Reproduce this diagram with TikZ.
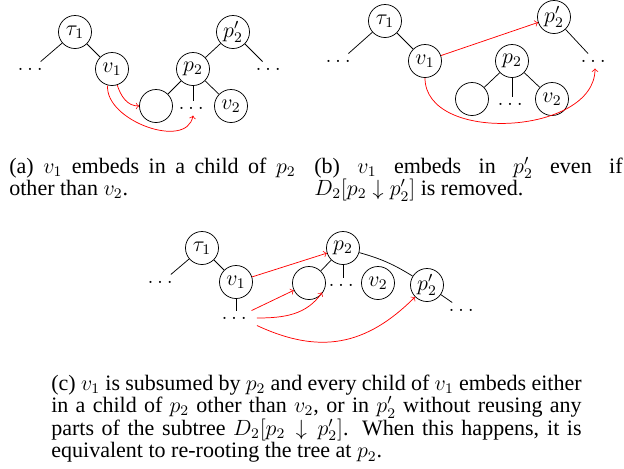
\documentclass[tikz,border=0pt]{standalone}
\usepackage{fontspec}
\setmainfont{Liberation Serif}
\usepackage{amsmath}
\usetikzlibrary{arrows, positioning}
\tikzstyle{vert} = [circle, draw=black, minimum size=18pt, inner sep=0pt]
\tikzstyle{more} = [inner sep=3.3pt]
\tikzstyle{embed} = [red, ->]
\tikzstyle{caption} = [inner sep=0pt, anchor=base west, align=justify]

\begin{document}
\begin{tikzpicture}[x=0.545pt, y=-0.545pt, font=\fontsize{12}{12.3}\selectfont]
    \useasboundingbox (0,0) rectangle (624,468);
    % (a)
    \node (tauA) [vert] at (75,32) {$\tau_1$};
    \node (voneA) [vert] at (112,69) {$v_1$};
    \node (dotsLA) [more] at (32,69) {$\dots$};
    \node (pprimeA) [vert] at (233,32) {$p'_2$};
    \node (ptwoA) [vert] at (193,69) {$p_2$};
    \node (dotsRA) [more] at (270,69) {$\dots$};
    \node (emptyA) [vert] at (156,106) {};
    \node (dotsMA) [more] at (193,108) {$\dots$};
    \node (vtwoA) [vert] at (231,106) {$v_2$};
    \draw (tauA) -- (dotsLA); \draw (tauA) -- (voneA);
    \draw (pprimeA) -- (ptwoA); \draw (pprimeA) -- (dotsRA);
    \draw (ptwoA) -- (emptyA); \draw (ptwoA) -- (dotsMA); \draw (ptwoA) -- (vtwoA);
    \draw [embed] (voneA.-72) to[out=-72, in=180] (emptyA.west);
    \draw [embed] (voneA.-105) to[out=-95, in=-100] (dotsMA.south);
    \node [caption, text width=156pt] at (9,173) {(a) $v_1$ embeds in a child of $p_2$ other than $v_2$.};

    % (b)
    \node (tauB) [vert] at (385,21) {$\tau_1$};
    \node (voneB) [vert] at (425,61) {$v_1$};
    \node (dotsLB) [more] at (340,61) {$\dots$};
    \node (pprimeB) [vert] at (554,17) {$p'_2$};
    \node (dotsRB) [more] at (595,61) {$\dots$};
    \node (ptwoB) [vert] at (512,61) {$p_2$};
    \node (emptyB) [vert] at (472,99) {};
    \node (dotsMB) [more] at (512,104) {$\dots$};
    \node (vtwoB) [vert] at (552,99) {$v_2$};
    \draw (tauB) -- (dotsLB); \draw (tauB) -- (voneB);
    \draw (pprimeB) -- (dotsRB);
    \draw (ptwoB) -- (emptyB); \draw (ptwoB) -- (dotsMB); \draw (ptwoB) -- (vtwoB);
    \draw [embed] (voneB) -- (pprimeB);
    \draw [embed] (voneB.south) to[out=-90, in=-90] (dotsRB.south);
    \node [caption, text width=168pt] at (314,173) {(b) $v_1$ embeds in $p'_2$ even if \mbox{$D_2[p_2 \downarrow p'_2]$} is removed.};

    % (c)
    \node (tauC) [vert] at (202,248) {$\tau_1$};
    \node (voneC) [vert] at (236,282) {$v_1$};
    \node (dotsLC) [more] at (162,282) {$\dots$};
    \node (dotsC) [more] at (236,318) {$\dots$};
    \node (ptwoC) [vert] at (343,248) {$p_2$};
    \node (emptyC) [vert] at (309,283) {};
    \node (dotsMC) [more] at (343,285) {$\dots$};
    \node (vtwoC) [vert] at (378,283) {$v_2$};
    \node (pprimeC) [vert] at (427,285) {$p'_2$};
    \node (dotsRC) [more] at (463,310) {$\dots$};
    \draw (tauC) -- (dotsLC); \draw (tauC) -- (voneC); \draw (voneC) -- (dotsC);
    \draw (ptwoC) -- (emptyC); \draw (ptwoC) -- (dotsMC);
    \draw (ptwoC) to[bend left=8] (pprimeC); \draw (pprimeC) -- (dotsRC);
    \draw [embed] (voneC) -- (ptwoC);
    \draw [embed] (dotsC) -- (emptyC);
    \draw [embed] (dotsC.east) to[out=0, in=-125] (dotsMC.south west);
    \draw [embed] (dotsC.south east) to[out=-25, in=-135, looseness=1.1] (pprimeC);
    \node [caption, text width=289pt] at (51,390) {(c) $v_1$ is subsumed by $p_2$ and every child of $v_1$ embeds either in a child of $p_2$ other than $v_2$, or in $p'_2$ without reusing any parts of the subtree $D_2[p_2 \downarrow p'_2]$. When this happens, it is equivalent to re-rooting the tree at $p_2$.};
\end{tikzpicture}
\end{document}
